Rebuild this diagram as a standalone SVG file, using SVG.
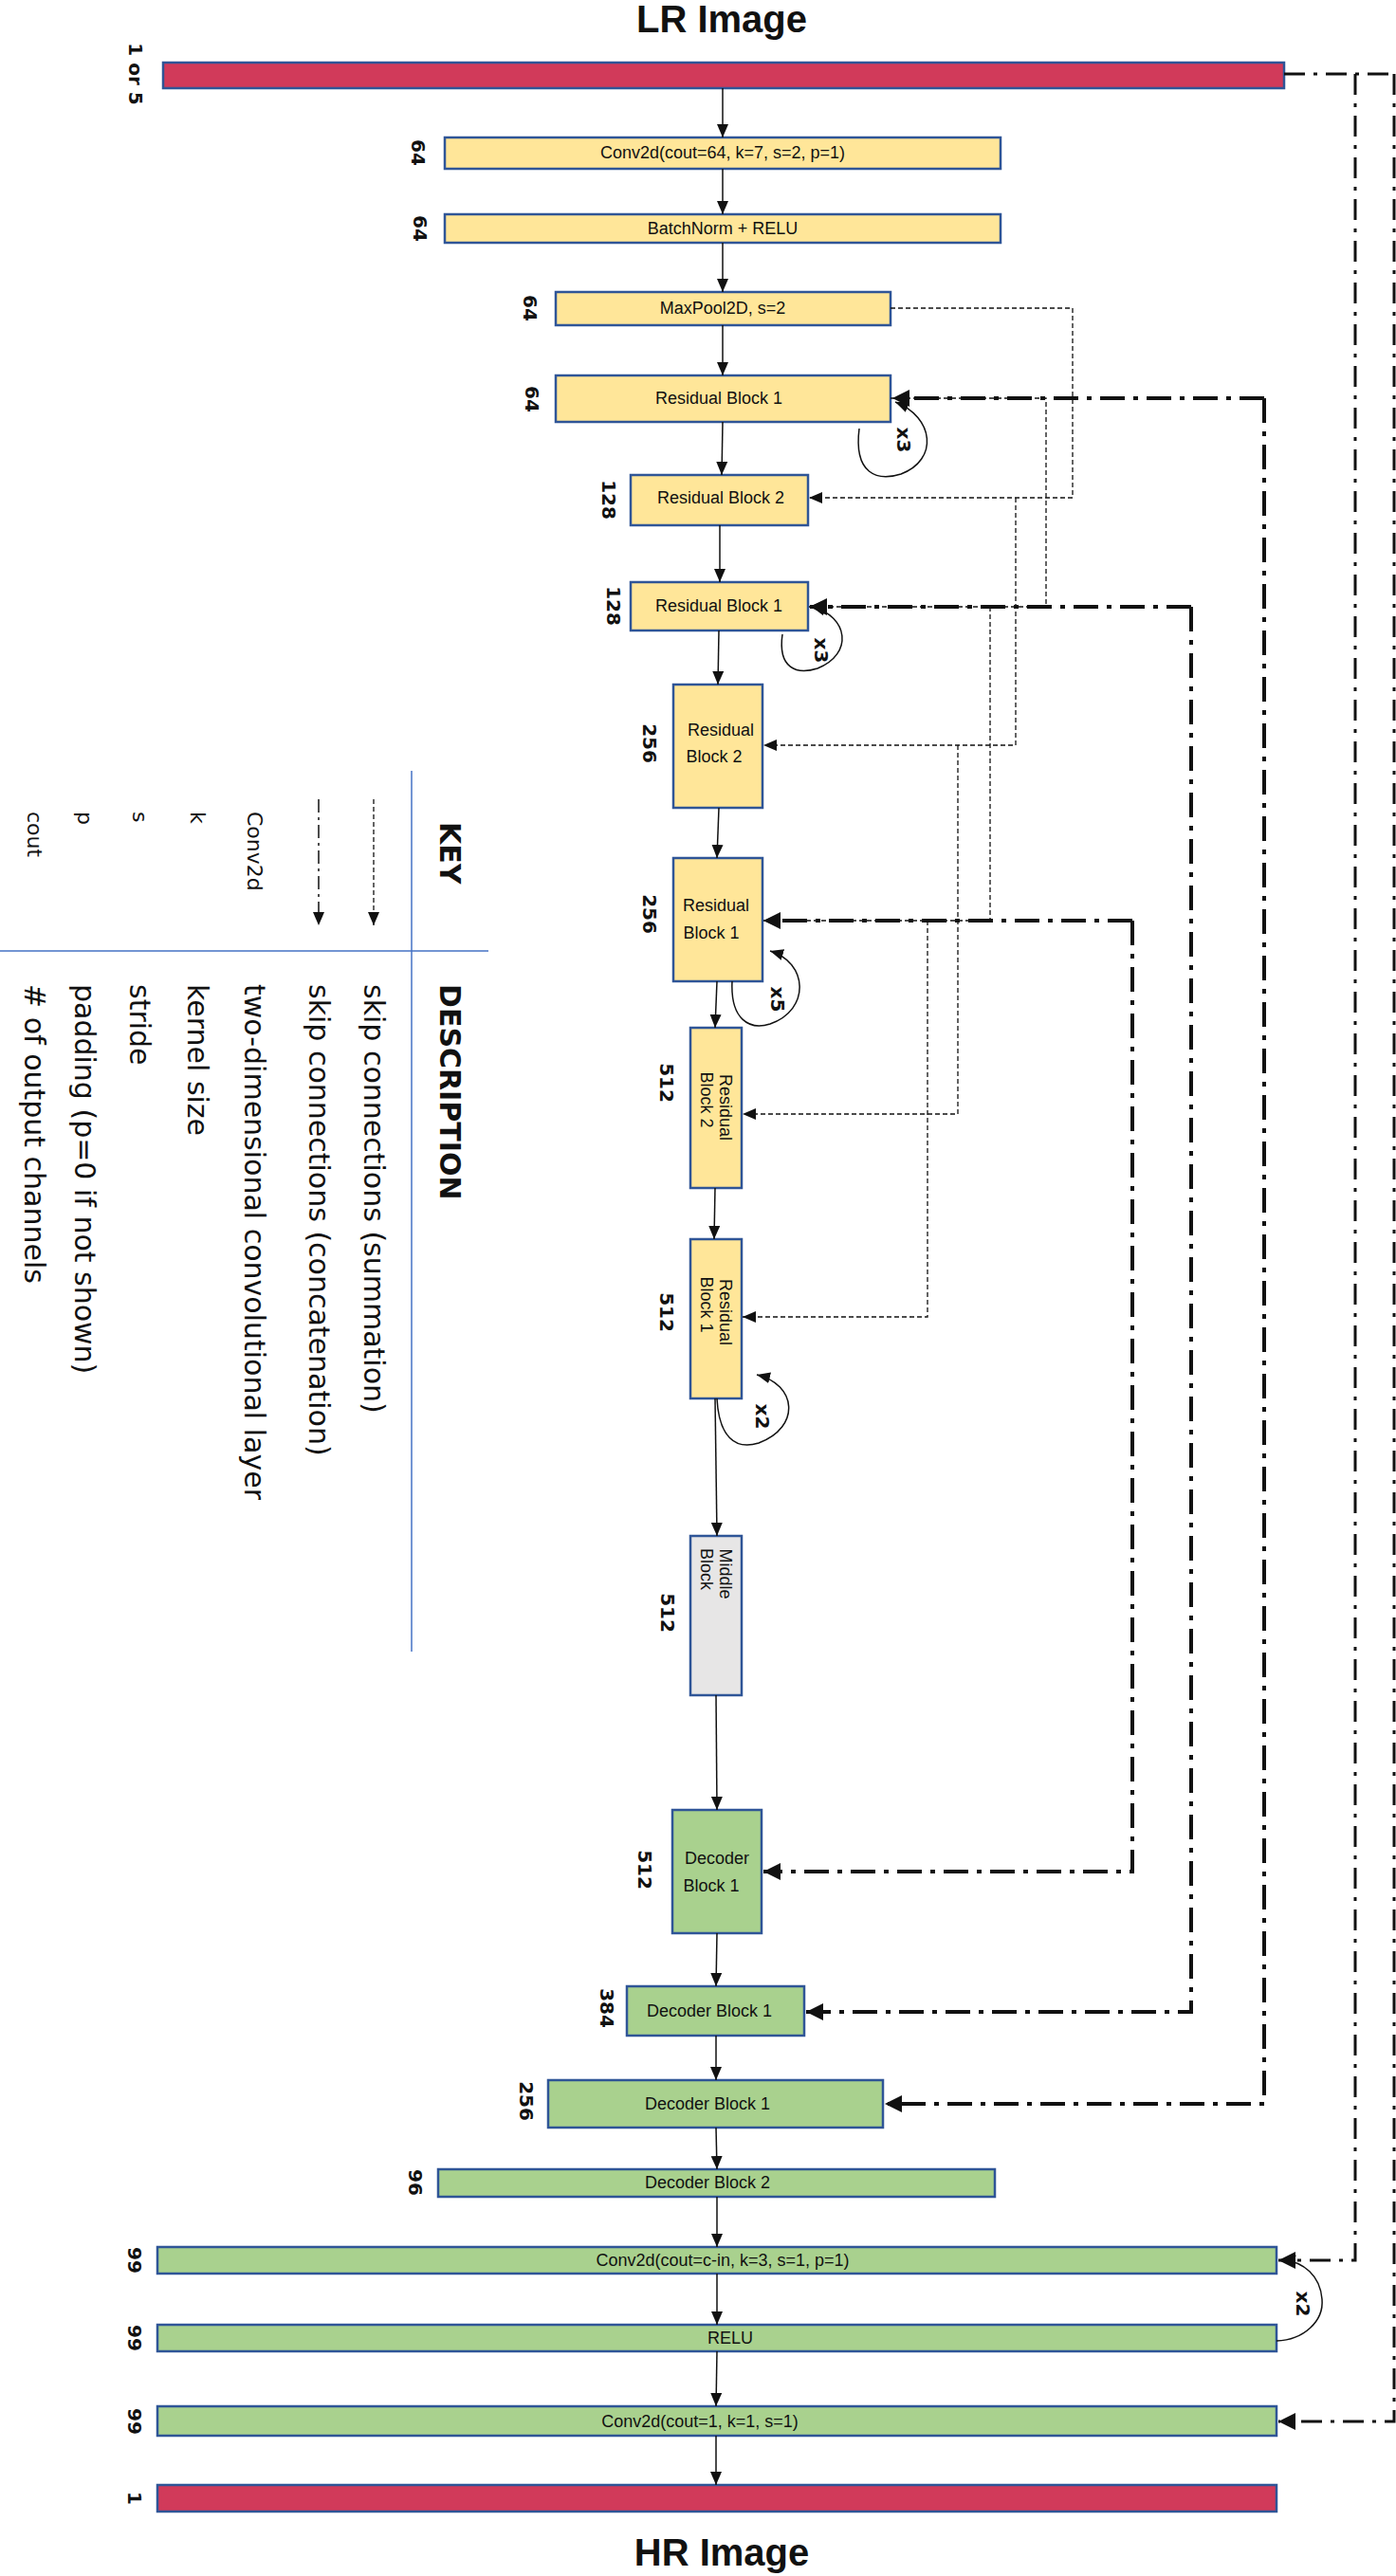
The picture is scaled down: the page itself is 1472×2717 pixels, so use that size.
<svg xmlns="http://www.w3.org/2000/svg" width="1472" height="2717" viewBox="0 0 1472 2717">
<style>
.y{fill:#FFE699;stroke:#2F5597;stroke-width:2.5}
.g{fill:#A9D18E;stroke:#2F5597;stroke-width:2.5}
.m{fill:#E7E6E6;stroke:#2F5597;stroke-width:2.5}
.r{fill:#D13A5A;stroke:#2F5597;stroke-width:2.5}
.t{font-family:"Liberation Sans",Arial,sans-serif;font-size:18px;fill:#111;text-anchor:middle;dominant-baseline:central}
.n{font-family:"DejaVu Sans",sans-serif;font-weight:bold;font-size:20px;fill:#111;text-anchor:middle;dominant-baseline:central}
.h{font-family:"Liberation Sans",Arial,sans-serif;font-weight:bold;font-size:40px;fill:#111;text-anchor:middle;dominant-baseline:central}
.k{font-family:"DejaVu Sans",sans-serif;font-size:22px;fill:#111;dominant-baseline:central}
.d{font-family:"DejaVu Sans",sans-serif;font-size:30px;fill:#111;dominant-baseline:central}
.kb{font-family:"DejaVu Sans",sans-serif;font-weight:bold;font-size:30px;fill:#111;dominant-baseline:central}
.s{fill:none;stroke:#111;stroke-width:1.5}
.c{fill:none;stroke:#111;stroke-width:1.3;stroke-dasharray:5 3}
.a{fill:none;stroke:#111;stroke-width:4;stroke-dasharray:26 9 5 9}
.a2{fill:none;stroke:#111;stroke-width:3;stroke-dasharray:22 9 4 9}
</style>
<defs>
<marker id="ar" markerUnits="userSpaceOnUse" markerWidth="16" markerHeight="16" refX="14" refY="8" orient="auto"><path d="M0,2 L14,8 L0,14 Z" fill="#111"/></marker>
<marker id="ab" markerUnits="userSpaceOnUse" markerWidth="22" markerHeight="22" refX="18" refY="11" orient="auto"><path d="M0,2 L18,11 L0,20 Z" fill="#111"/></marker>
</defs>

<text class="h" x="761" y="20">LR Image</text>
<text class="h" x="761" y="2692">HR Image</text>

<g id="lr"><rect class="r" x="172" y="66" width="1182" height="27"/><text class="n" transform="translate(143,78) rotate(90)">1 or 5</text></g>
<g id="conv1"><rect class="y" x="469" y="145" width="586" height="33"/><text class="t" x="762" y="161">Conv2d(cout=64, k=7, s=2, p=1)</text><text class="n" transform="translate(441,161) rotate(90)">64</text></g>
<g id="bn"><rect class="y" x="469" y="226" width="586" height="30"/><text class="t" x="762" y="241">BatchNorm + RELU</text><text class="n" transform="translate(443,241) rotate(90)">64</text></g>
<g id="maxpool"><rect class="y" x="586" y="308" width="353" height="35"/><text class="t" x="762" y="325">MaxPool2D, s=2</text><text class="n" transform="translate(559,325) rotate(90)">64</text></g>
<g id="rb1a"><rect class="y" x="586" y="396" width="353" height="49"/><text class="t" x="758" y="420">Residual Block 1</text><text class="n" transform="translate(561,421) rotate(90)">64</text></g>
<g id="rb2a"><rect class="y" x="665" y="501" width="187" height="53"/><text class="t" x="760" y="525">Residual Block 2</text><text class="n" transform="translate(642,527) rotate(90)">128</text></g>
<g id="rb1b"><rect class="y" x="665" y="614" width="187" height="51"/><text class="t" x="758" y="639">Residual Block 1</text><text class="n" transform="translate(647,639) rotate(90)">128</text></g>
<g id="rb2b"><rect class="y" x="710" y="722" width="94" height="130"/><text class="t" x="760" y="770">Residual</text><text class="t" x="753" y="798">Block 2</text><text class="n" transform="translate(685,784) rotate(90)">256</text></g>
<g id="rb1c"><rect class="y" x="710" y="905" width="94" height="130"/><text class="t" x="755" y="955">Residual</text><text class="t" x="750" y="984">Block 1</text><text class="n" transform="translate(685,964) rotate(90)">256</text></g>
<g id="rb2c"><rect class="y" x="728" y="1084" width="54" height="169"/><text class="t" transform="translate(765,1168) rotate(90)">Residual</text><text class="t" transform="translate(745,1160) rotate(90)">Block 2</text><text class="n" transform="translate(703,1142) rotate(90)">512</text></g>
<g id="rb1d"><rect class="y" x="728" y="1307" width="54" height="168"/><text class="t" transform="translate(765,1384) rotate(90)">Residual</text><text class="t" transform="translate(745,1376) rotate(90)">Block 1</text><text class="n" transform="translate(703,1384) rotate(90)">512</text></g>
<g id="middle"><rect class="m" x="728" y="1620" width="54" height="168"/><text class="t" transform="translate(765,1660) rotate(90)">Middle</text><text class="t" transform="translate(745,1655) rotate(90)">Block</text><text class="n" transform="translate(704,1701) rotate(90)">512</text></g>
<g id="dec1"><rect class="g" x="709" y="1909" width="94" height="130"/><text class="t" x="756" y="1960">Decoder</text><text class="t" x="750" y="1989">Block 1</text><text class="n" transform="translate(680,1972) rotate(90)">512</text></g>
<g id="dec2"><rect class="g" x="661" y="2095" width="187" height="52"/><text class="t" x="748" y="2121">Decoder Block 1</text><text class="n" transform="translate(640,2118) rotate(90)">384</text></g>
<g id="dec3"><rect class="g" x="578" y="2194" width="353" height="50"/><text class="t" x="746" y="2219">Decoder Block 1</text><text class="n" transform="translate(555,2216) rotate(90)">256</text></g>
<g id="dec4"><rect class="g" x="462" y="2288" width="587" height="29"/><text class="t" x="746" y="2302">Decoder Block 2</text><text class="n" transform="translate(438,2302) rotate(90)">96</text></g>
<g id="convc"><rect class="g" x="166" y="2370" width="1180" height="28"/><text class="t" x="762" y="2384">Conv2d(cout=c-in, k=3, s=1, p=1)</text><text class="n" transform="translate(142,2384) rotate(90)">99</text></g>
<g id="relu"><rect class="g" x="166" y="2452" width="1180" height="28"/><text class="t" x="770" y="2466">RELU</text><text class="n" transform="translate(142,2466) rotate(90)">99</text></g>
<g id="conv3"><rect class="g" x="166" y="2538" width="1180" height="31"/><text class="t" x="738" y="2554">Conv2d(cout=1, k=1, s=1)</text><text class="n" transform="translate(142,2554) rotate(90)">99</text></g>
<g id="hr"><rect class="r" x="166" y="2621" width="1180" height="28"/><text class="n" transform="translate(142,2635) rotate(90)">1</text></g>

<g id="connectors">
<path class="s" marker-end="url(#ar)" d="M762,93 L762,145"/>
<path class="s" marker-end="url(#ar)" d="M762,178 L762,226"/>
<path class="s" marker-end="url(#ar)" d="M762,256 L762,308"/>
<path class="s" marker-end="url(#ar)" d="M762,343 L762,396"/>
<path class="s" marker-end="url(#ar)" d="M762,445 L761,501"/>
<path class="s" marker-end="url(#ar)" d="M759,554 L759,614"/>
<path class="s" marker-end="url(#ar)" d="M758,665 L757,722"/>
<path class="s" marker-end="url(#ar)" d="M758,852 L756,905"/>
<path class="s" marker-end="url(#ar)" d="M756,1035 L754,1084"/>
<path class="s" marker-end="url(#ar)" d="M754,1253 L753,1307"/>
<path class="s" marker-end="url(#ar)" d="M754,1475 L756,1620"/>
<path class="s" marker-end="url(#ar)" d="M755,1788 L756,1909"/>
<path class="s" marker-end="url(#ar)" d="M756,2039 L755,2095"/>
<path class="s" marker-end="url(#ar)" d="M755,2147 L755,2194"/>
<path class="s" marker-end="url(#ar)" d="M755,2244 L756,2288"/>
<path class="s" marker-end="url(#ar)" d="M756,2317 L756,2370"/>
<path class="s" marker-end="url(#ar)" d="M756,2398 L756,2452"/>
<path class="s" marker-end="url(#ar)" d="M756,2480 L755,2538"/>
<path class="s" marker-end="url(#ar)" d="M755,2569 L755,2621"/>

<path class="s" marker-end="url(#ar)" d="M906,452 C900,500 925,508 950,500 C990,485 985,440 944,424"/>
<text class="n" transform="translate(953,464) rotate(90)">x3</text>
<path class="s" marker-end="url(#ar)" d="M825,669 C820,705 840,712 862,705 C900,690 895,650 856,640"/>
<text class="n" transform="translate(866,686) rotate(90)">x3</text>
<path class="s" marker-end="url(#ar)" d="M772,1035 C770,1075 790,1087 812,1080 C855,1065 852,1015 812,1003"/>
<text class="n" transform="translate(820,1054) rotate(90)">x5</text>
<path class="s" marker-end="url(#ar)" d="M756,1475 C758,1515 775,1530 800,1522 C845,1505 840,1460 798,1450"/>
<text class="n" transform="translate(804,1494) rotate(90)">x2</text>
<path class="s" marker-end="url(#ar)" d="M1346,2469 C1375,2468 1396,2448 1394,2425 C1392,2400 1375,2386 1352,2383"/>
<text class="n" transform="translate(1374,2430) rotate(90)">x2</text>

<path class="c" marker-end="url(#ar)" d="M939,325 L1131,325 L1131,525 L853,525"/>
<path class="c" marker-end="url(#ar)" d="M939,420 L1103,420 L1103,640 L853,640"/>
<path class="c" marker-end="url(#ar)" d="M1071,525 L1071,786 L805,786"/>
<path class="c" marker-end="url(#ar)" d="M1044,640 L1044,971 L805,971"/>
<path class="c" marker-end="url(#ar)" d="M1010,786 L1010,1175 L783,1175"/>
<path class="c" marker-end="url(#ar)" d="M978,971 L978,1389 L783,1389"/>

<path class="a" marker-end="url(#ab)" d="M1333,420 L941,420"/>
<path class="a" marker-end="url(#ab)" d="M1333,420 L1333,2219 L933,2219"/>
<path class="a" marker-end="url(#ab)" d="M1256,640 L854,640"/>
<path class="a" marker-end="url(#ab)" d="M1256,640 L1256,2122 L850,2122"/>
<path class="a" marker-end="url(#ab)" d="M1194,971 L805,971"/>
<path class="a" marker-end="url(#ab)" d="M1194,971 L1194,1974 L805,1974"/>
<path class="a2" d="M1354,78 L1470,78"/>
<path class="a2" marker-end="url(#ab)" d="M1429,78 L1429,2384 L1348,2384"/>
<path class="a2" marker-end="url(#ab)" d="M1470,78 L1470,2554 L1348,2554"/>
</g>

<g id="key">
<line x1="434" y1="813" x2="434" y2="1742" stroke="#4472C4" stroke-width="1.5"/>
<line x1="0" y1="1003" x2="515" y2="1003" stroke="#4472C4" stroke-width="1.5"/>
<text class="kb" transform="translate(474,867) rotate(90)">KEY</text>
<text class="kb" transform="translate(474,1038) rotate(90)">DESCRIPTION</text>
<path class="c" marker-end="url(#ar)" d="M394,843 L394,976"/>
<path class="a2" stroke-width="1.5" marker-end="url(#ar)" d="M336,843 L336,976" style="stroke-width:1.5;stroke-dasharray:14 5 3 5"/>
<text class="k" transform="translate(268,856) rotate(90)">Conv2d</text>
<text class="k" transform="translate(208,856) rotate(90)">k</text>
<text class="k" transform="translate(147,856) rotate(90)">s</text>
<text class="k" transform="translate(89,856) rotate(90)">p</text>
<text class="k" transform="translate(36,856) rotate(90)">cout</text>
<text class="d" transform="translate(394,1038) rotate(90)">skip connections (summation)</text>
<text class="d" transform="translate(336,1038) rotate(90)">skip connections (concatenation)</text>
<text class="d" transform="translate(268,1038) rotate(90)">two-dimensional convolutional layer</text>
<text class="d" transform="translate(208,1038) rotate(90)">kernel size</text>
<text class="d" transform="translate(147,1038) rotate(90)">stride</text>
<text class="d" transform="translate(89,1038) rotate(90)">padding (p=0 if not shown)</text>
<text class="d" transform="translate(36,1038) rotate(90)"># of output channels</text>
</g>
</svg>
